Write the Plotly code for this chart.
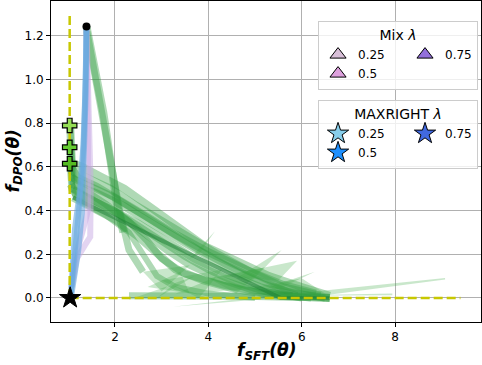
import plotly.graph_objects as go


# reference point and the dashed guide lines
ref_x = 1.03
ref_y = 0.0
guide_top = 1.3
guide_right = 9.4

# starting points (MAXRIGHT runs end here)
start_dot = (1.39, 1.243)
plus_y = [0.79, 0.69, 0.615]
plus_colors = ["#95dd55", "#66cc33", "#55bb22"]

# green trajectories (x, y)
green_x = [
    [1.39, 1.75, 2.05, 2.18],
    [1.40, 1.85, 2.10, 2.30, 2.6],
    [1.05, 1.3, 1.7, 2.2, 2.8, 3.4, 3.9, 4.6, 5.3, 6.0, 6.6],
    [1.04, 1.08, 1.4, 1.9, 2.4, 3.0, 3.6, 4.2, 4.9, 5.6, 6.4],
    [1.04, 1.06, 1.1, 1.6, 2.2, 2.8, 3.4, 4.0, 4.6, 5.2, 5.8, 6.6],
    [1.04, 1.08, 1.4, 1.9, 2.5, 3.0, 3.5, 4.0, 4.6, 5.2, 6.0],
    [1.1, 1.5, 2.0, 2.5, 2.9, 3.3, 3.9, 4.6, 5.5, 6.6],
    [1.08, 1.5, 2.0, 2.6, 3.2, 3.8, 4.4, 5.0, 5.7, 6.5],
    [1.1, 1.6, 2.1, 2.6, 3.1, 3.6, 4.2, 4.9, 5.8],
    [1.07, 1.3, 1.8, 2.3, 2.7, 3.0, 3.5, 4.3, 5.2, 6.2],
    [1.2, 1.8, 2.3, 2.6, 2.9, 3.3, 4.0, 5.0],
    [2.3, 3.2, 4.0, 4.8, 5.5, 6.6],
    [1.06, 1.08, 1.1, 1.15, 1.3],
    [1.06, 1.2, 1.6, 2.1, 2.7, 3.3, 4.0, 4.8, 5.6, 6.3],
    [1.05, 1.15, 1.5, 2.0, 2.5, 3.1, 3.7, 4.4, 5.1, 5.9],
]
green_y = [
    [1.243, 0.85, 0.42, 0.30],
    [1.22, 0.70, 0.40, 0.22, 0.12],
    [0.62, 0.60, 0.555, 0.50, 0.41, 0.32, 0.24, 0.17, 0.10, 0.05, 0.01],
    [0.69, 0.58, 0.55, 0.50, 0.43, 0.35, 0.27, 0.20, 0.12, 0.05, 0.01],
    [0.79, 0.60, 0.52, 0.48, 0.42, 0.34, 0.26, 0.19, 0.12, 0.06, 0.02, 0.0],
    [0.615, 0.50, 0.46, 0.41, 0.33, 0.26, 0.19, 0.13, 0.07, 0.03, 0.0],
    [0.46, 0.42, 0.36, 0.28, 0.20, 0.13, 0.08, 0.04, 0.01, 0.0],
    [0.55, 0.51, 0.46, 0.38, 0.30, 0.22, 0.15, 0.09, 0.03, 0.0],
    [0.50, 0.44, 0.38, 0.30, 0.22, 0.15, 0.09, 0.04, 0.01],
    [0.56, 0.50, 0.43, 0.35, 0.26, 0.18, 0.11, 0.06, 0.02, 0.0],
    [0.45, 0.38, 0.30, 0.20, 0.10, 0.05, 0.02, 0.0],
    [0.01, 0.012, 0.01, 0.008, 0.005, 0.0],
    [0.78, 0.60, 0.50, 0.46, 0.44],
    [0.60, 0.55, 0.51, 0.45, 0.37, 0.29, 0.21, 0.13, 0.06, 0.02],
    [0.52, 0.48, 0.45, 0.40, 0.34, 0.26, 0.18, 0.11, 0.05, 0.01],
]
green_widths = [8, 7, 8, 8, 8, 7, 8, 7, 7, 7, 6, 7, 5, 8, 8]

# the darker straight run
dark_x = [1.1, 2.0, 3.0, 4.0, 5.0, 5.55, 6.6]
dark_y = [0.46, 0.367, 0.264, 0.16, 0.057, 0.0, 0.0]

# loose green shards (triangles / wedges)
shard_x = [
    [3.24, 5.9, 5.9],
    [5.4, 9.07, 9.07, 6.5],
    [4.6, 4.9, 5.57],
    [3.6, 3.8, 4.14],
    [5.3, 5.5, 6.28],
    [2.6, 3.6, 3.0],
    [3.0, 4.3, 3.8],
    [4.0, 5.2, 4.6],
    [2.7, 3.4, 3.6],
    [5.0, 6.0, 6.5],
    [2.4, 3.2, 4.0],
    [4.3, 5.9, 5.5],
    [5.5, 7.94, 7.94],
    [3.3, 4.2, 4.9],
    [2.9, 3.7, 3.3],
]
shard_y = [
    [-0.04, 0.025, 0.008],
    [0.01, 0.092, 0.085, 0.012],
    [0.09, 0.07, 0.22],
    [0.18, 0.20, 0.306],
    [0.05, 0.04, 0.12],
    [0.12, 0.15, 0.03],
    [0.08, 0.13, 0.0],
    [0.09, 0.14, 0.02],
    [0.05, 0.12, 0.02],
    [0.05, 0.09, 0.02],
    [0.0, 0.06, 0.0],
    [0.10, 0.17, 0.08],
    [0.01, 0.02, 0.012],
    [0.02, 0.10, 0.04],
    [0.0, 0.10, 0.07],
]

# MAXRIGHT (blue) and Mix (purple) trajectories
blue_x = [
    [1.05, 1.10, 1.17, 1.25, 1.31, 1.35, 1.39],
    [1.05, 1.08, 1.14, 1.24, 1.32, 1.37, 1.39],
    [1.06, 1.13, 1.22, 1.30, 1.34, 1.38, 1.39],
]
blue_y = [
    [0.0, 0.12, 0.25, 0.42, 0.60, 0.85, 1.243],
    [0.0, 0.15, 0.32, 0.48, 0.70, 1.00, 1.243],
    [0.0, 0.10, 0.22, 0.40, 0.62, 0.95, 1.243],
]
purple_x = [
    [1.07, 1.18, 1.35, 1.47, 1.48, 1.44, 1.39],
    [1.07, 1.16, 1.30, 1.42, 1.42, 1.39],
]
purple_y = [
    [0.05, 0.18, 0.24, 0.28, 0.50, 0.78, 1.243],
    [0.05, 0.20, 0.30, 0.40, 0.70, 1.243],
]

# legend entries (first column padded so the two columns sit apart)
lambdas = ["0.25", "0.5", "0.75"]
mix_colors = ["#d8bfd8", "#dda0dd", "#9370db"]
maxright_colors = ["#87ceeb", "#1e90ff", "#4169e1"]
pad = "&nbsp;" * 4

fig = go.Figure()

for xs, ys, w in zip(green_x, green_y, green_widths):
    fig.add_trace(go.Scatter(x=xs, y=ys, mode="lines", showlegend=False,
                             line=dict(color="rgba(45,155,60,0.38)", width=w)))

for xs, ys in zip(shard_x, shard_y):
    fig.add_trace(go.Scatter(x=xs, y=ys, mode="lines", fill="toself", showlegend=False,
                             fillcolor="rgba(60,170,70,0.28)", line=dict(width=0)))

fig.add_trace(go.Scatter(x=dark_x, y=dark_y, mode="lines", showlegend=False,
                         line=dict(color="rgba(25,125,50,0.5)", width=4)))

for xs, ys in zip(purple_x, purple_y):
    fig.add_trace(go.Scatter(x=xs, y=ys, mode="lines", showlegend=False,
                             line=dict(color="rgba(200,170,228,0.5)", width=6)))

for xs, ys in zip(blue_x, blue_y):
    fig.add_trace(go.Scatter(x=xs, y=ys, mode="lines", showlegend=False,
                             line=dict(color="rgba(105,170,222,0.62)", width=5.5)))

# dashed guides
fig.add_trace(go.Scatter(x=[ref_x, ref_x], y=[ref_y, guide_top], mode="lines", showlegend=False,
                         line=dict(color="#c8c800", width=2.5, dash="9px,4px")))
fig.add_trace(go.Scatter(x=[ref_x, guide_right], y=[ref_y, ref_y], mode="lines", showlegend=False,
                         line=dict(color="#c8c800", width=2.5, dash="9px,4px")))

# markers
fig.add_trace(go.Scatter(x=[start_dot[0]], y=[start_dot[1]], mode="markers", showlegend=False,
                         marker=dict(color="black", size=8)))
fig.add_trace(go.Scatter(x=[ref_x] * len(plus_y), y=plus_y, mode="markers", showlegend=False,
                         marker=dict(symbol="cross", size=12, color=plus_colors,
                                     line=dict(color="black", width=1.2))))
fig.add_trace(go.Scatter(x=[ref_x + 0.01], y=[ref_y], mode="markers", showlegend=False,
                         marker=dict(symbol="star", size=16, color="black",
                                     line=dict(color="black", width=1))))

# legend-only entries, two columns per box
for i, lam in enumerate(lambdas):
    fig.add_trace(go.Scatter(x=[None], y=[None], mode="markers",
                             name=lam + pad if i < 2 else lam,
                             legend="legend", legendgroup="mix_a" if i < 2 else "mix_b",
                             marker=dict(symbol="triangle-up", size=14, color=mix_colors[i],
                                         line=dict(color="black", width=1))))
for i, lam in enumerate(lambdas):
    fig.add_trace(go.Scatter(x=[None], y=[None], mode="markers",
                             name=lam + pad if i < 2 else lam,
                             legend="legend2", legendgroup="mr_a" if i < 2 else "mr_b",
                             marker=dict(symbol="star", size=16, color=maxright_colors[i],
                                         line=dict(color="black", width=1))))

legend_style = dict(orientation="h", traceorder="grouped", xanchor="left", yanchor="top",
                    bgcolor="rgba(255,255,255,0.8)", bordercolor="#cccccc", borderwidth=1,
                    font=dict(family="DejaVu Sans", size=12, color="black"),
                    tracegroupgap=0, itemclick=False)

fig.update_layout(
    width=482, height=365,
    margin=dict(l=51, r=1, t=1, b=43, autoexpand=False),
    paper_bgcolor="white", plot_bgcolor="white",
    font=dict(family="DejaVu Sans", size=12, color="black"),
    legend=dict(legend_style, x=0.621, y=0.938,
                title=dict(text="Mix <i>λ</i>", side="top center")),
    legend2=dict(legend_style, x=0.621, y=0.692,
                 title=dict(text="MAXRIGHT <i>λ</i>", side="top center")),
    annotations=[
        dict(text="<b><i>f<sub>SFT</sub>(θ)</i></b>", xref="paper", yref="paper",
             x=0.5, y=0, yshift=-29, showarrow=False, yanchor="middle",
             font=dict(family="DejaVu Sans", size=17)),
        dict(text="<b><i>f<sub>DPO</sub>(θ)</i></b>", xref="paper", yref="paper",
             x=0, y=0.5, xshift=-37, showarrow=False, textangle=-90, xanchor="center",
             font=dict(family="DejaVu Sans", size=17)),
    ],
)

axis_style = dict(showline=True, linecolor="black", linewidth=1, mirror=True,
                  ticks="outside", ticklen=4, tickcolor="black", automargin=False,
                  showgrid=True, gridcolor="#b0b0b0", gridwidth=1, zeroline=False,
                  tickfont=dict(family="DejaVu Sans", size=12, color="black"))

fig.update_xaxes(axis_style, range=[0.63, 9.84], tickvals=[2, 4, 6, 8])
fig.update_yaxes(axis_style, range=[-0.11, 1.36],
                 tickvals=[0.0, 0.2, 0.4, 0.6, 0.8, 1.0, 1.2], tickformat=".1f")

# the page's default body margin would shift the figure
fig.write_html("out.html", config={"displayModeBar": False},
               post_script="document.body.style.margin = '0';")
